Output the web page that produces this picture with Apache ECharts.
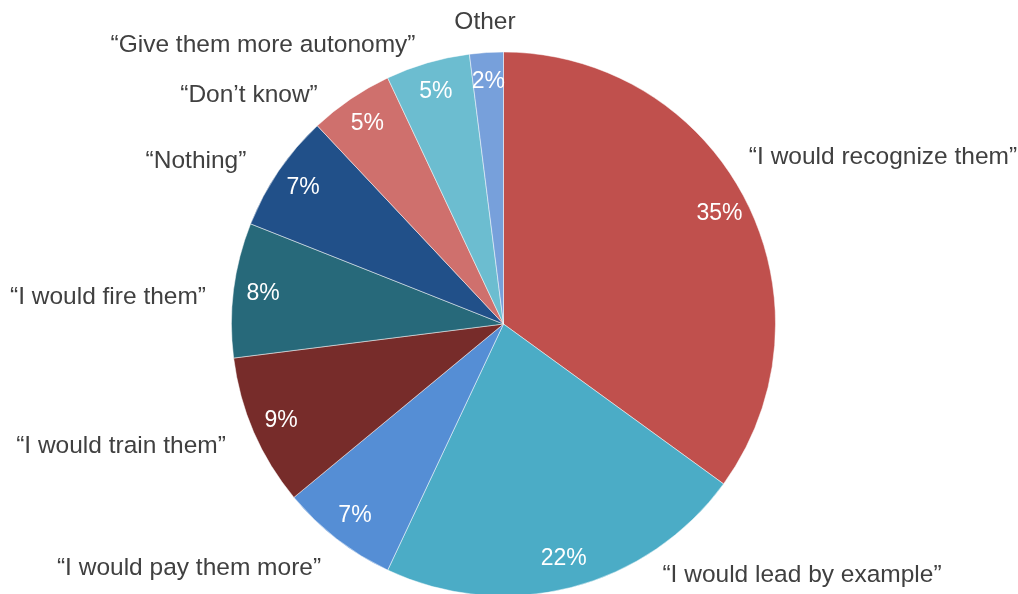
<!DOCTYPE html>
<html>
<head>
<meta charset="utf-8">
<script src="https://cdn.jsdelivr.net/npm/echarts@6/dist/echarts.min.js"></script>
<style>
  html, body { margin: 0; padding: 0; background: #ffffff; }
  #chart { width: 1018px; height: 594px; }
</style>
</head>
<body>
<div id="chart"></div>
<script>
const categories = [
  '“I would recognize them”',
  '“I would lead by example”',
  '“I would pay them more”',
  '“I would train them”',
  '“I would fire them”',
  '“Nothing”',
  '“Don’t know”',
  '“Give them more autonomy”',
  'Other'
];
const values = [35, 22, 7, 9, 8, 7, 5, 5, 2];
const colors = ['#C0504D', '#4BACC6', '#558ED5', '#772C2A', '#27697A', '#215089', '#CF706D', '#6CBDD0', '#77A0DB'];

// Outside label anchor points (layout only)
const labelCenters = [
  [883, 157], [802, 575], [189, 568], [121, 446], [108, 297],
  [196, 161], [249, 95], [263, 45], [485, 22]
];

const FONT = "'Liberation Sans Narrow', 'Arial Narrow', 'Liberation Sans', Arial, sans-serif";
const chart = echarts.init(document.getElementById('chart'), null, { renderer: 'canvas' });

const pieData = categories.map((c, i) => ({ name: c, value: values[i], itemStyle: { color: colors[i] } }));
const center = [503.5, 324];
const R = 272;

chart.setOption({
  backgroundColor: '#ffffff',
  animation: false,
  series: [
    {
      type: 'pie',
      center: center,
      radius: [0, R],
      startAngle: 90,
      clockwise: true,
      silent: true,
      data: pieData,
      itemStyle: { borderColor: 'rgba(255,255,255,0.6)', borderWidth: 0.8 },
      label: {
        show: true,
        position: 'outside',
        alignTo: 'none',
        overflow: 'none',
        formatter: '{b}',
        color: '#404040',
        fontFamily: FONT,
        fontSize: 24.5
      },
      labelLine: { show: false },
      labelLayout: function (p) {
        const pt = labelCenters[p.dataIndex];
        return { x: pt[0], y: pt[1], align: 'center', verticalAlign: 'middle', width: 400 };
      }
    },
    {
      type: 'pie',
      center: center,
      radius: [R * 0.76, R],
      startAngle: 90,
      clockwise: true,
      silent: true,
      data: pieData.map(d => ({ name: d.name, value: d.value })),
      itemStyle: { color: 'rgba(0,0,0,0)', borderWidth: 0 },
      label: {
        show: true,
        position: 'inside',
        formatter: '{c}%',
        color: '#ffffff',
        fontFamily: FONT,
        fontSize: 23
      },
      labelLine: { show: false }
    }
  ]
});
</script>
</body>
</html>
